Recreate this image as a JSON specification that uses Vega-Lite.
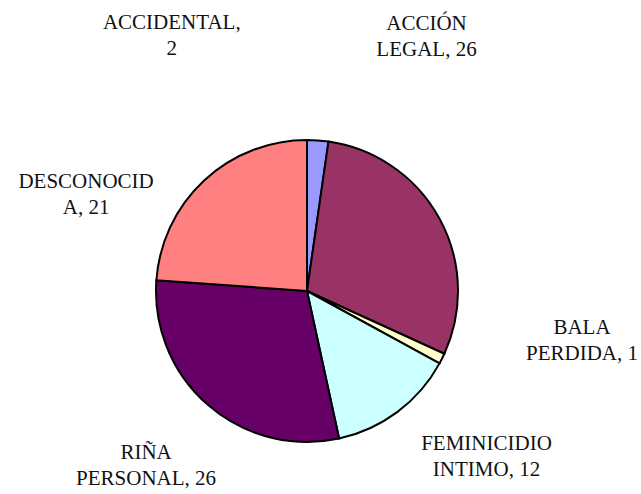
{
  "$schema": "https://vega.github.io/schema/vega-lite/v6.json",
  "autosize": "none",
  "width": 614,
  "height": 406,
  "padding": {"left": 0, "top": 88, "right": 27, "bottom": 0},
  "background": "white",
  "config": {"view": {"stroke": null}},
  "data": {
    "values": [
      {"order": 1, "cat": "ACCIDENTAL", "value": 2, "label": "ACCIDENTAL,\n2"},
      {"order": 2, "cat": "ACCIÓN LEGAL", "value": 26, "label": "ACCIÓN\nLEGAL, 26"},
      {"order": 3, "cat": "BALA PERDIDA", "value": 1, "label": "BALA\nPERDIDA, 1"},
      {"order": 4, "cat": "FEMINICIDIO INTIMO", "value": 12, "label": "FEMINICIDIO\nINTIMO, 12"},
      {"order": 5, "cat": "RIÑA PERSONAL", "value": 26, "label": "RIÑA\nPERSONAL, 26"},
      {"order": 6, "cat": "DESCONOCIDA", "value": 21, "label": "DESCONOCID\nA, 21"}
    ]
  },
  "transform": [
    {"stack": "value", "groupby": [], "sort": [{"field": "order"}], "as": ["v0", "v1"]},
    {"calculate": "(datum.v0 + datum.v1) / 2", "as": "mid"}
  ],
  "layer": [
    {
      "mark": {"type": "arc", "radius": 151, "stroke": "black", "strokeWidth": 2},
      "encoding": {
        "theta": {"field": "v0", "type": "quantitative", "scale": {"domain": [0, 88]}},
        "theta2": {"field": "v1"},
        "color": {
          "field": "cat", "type": "nominal", "legend": null,
          "scale": {
            "domain": ["ACCIDENTAL", "ACCIÓN LEGAL", "BALA PERDIDA", "FEMINICIDIO INTIMO", "RIÑA PERSONAL", "DESCONOCIDA"],
            "range": ["#9999FF", "#993366", "#FFFFCC", "#CCFFFF", "#660066", "#FF8080"]
          }
        }
      }
    },
    {
      "transform": [{"filter": "datum.order == 1"}],
      "mark": {"type": "text", "radius": 151, "dx": -146, "dy": -117, "font": "Liberation Serif", "fontSize": 21, "lineHeight": 26, "lineBreak": "\n", "align": "center", "baseline": "middle", "color": "#111"},
      "encoding": {"theta": {"field": "mid", "type": "quantitative"}, "text": {"field": "label"}}
    },
    {
      "transform": [{"filter": "datum.order == 2"}],
      "mark": {"type": "text", "radius": 151, "dx": -13, "dy": -195, "font": "Liberation Serif", "fontSize": 21, "lineHeight": 26, "lineBreak": "\n", "align": "center", "baseline": "middle", "color": "#111"},
      "encoding": {"theta": {"field": "mid", "type": "quantitative"}, "text": {"field": "label"}}
    },
    {
      "transform": [{"filter": "datum.order == 3"}],
      "mark": {"type": "text", "radius": 151, "dx": 140, "dy": -31, "font": "Liberation Serif", "fontSize": 21, "lineHeight": 26, "lineBreak": "\n", "align": "center", "baseline": "middle", "color": "#111"},
      "encoding": {"theta": {"field": "mid", "type": "quantitative"}, "text": {"field": "label"}}
    },
    {
      "transform": [{"filter": "datum.order == 4"}],
      "mark": {"type": "text", "radius": 151, "dx": 89, "dy": 32, "font": "Liberation Serif", "fontSize": 21, "lineHeight": 26, "lineBreak": "\n", "align": "center", "baseline": "middle", "color": "#111"},
      "encoding": {"theta": {"field": "mid", "type": "quantitative"}, "text": {"field": "label"}}
    },
    {
      "transform": [{"filter": "datum.order == 5"}],
      "mark": {"type": "text", "radius": 151, "dx": -62, "dy": 48, "font": "Liberation Serif", "fontSize": 21, "lineHeight": 26, "lineBreak": "\n", "align": "center", "baseline": "middle", "color": "#111"},
      "encoding": {"theta": {"field": "mid", "type": "quantitative"}, "text": {"field": "label"}}
    },
    {
      "transform": [{"filter": "datum.order == 6"}],
      "mark": {"type": "text", "radius": 151, "dx": -118, "dy": 2, "font": "Liberation Serif", "fontSize": 21, "lineHeight": 26, "lineBreak": "\n", "align": "center", "baseline": "middle", "color": "#111"},
      "encoding": {"theta": {"field": "mid", "type": "quantitative"}, "text": {"field": "label"}}
    }
  ]
}
